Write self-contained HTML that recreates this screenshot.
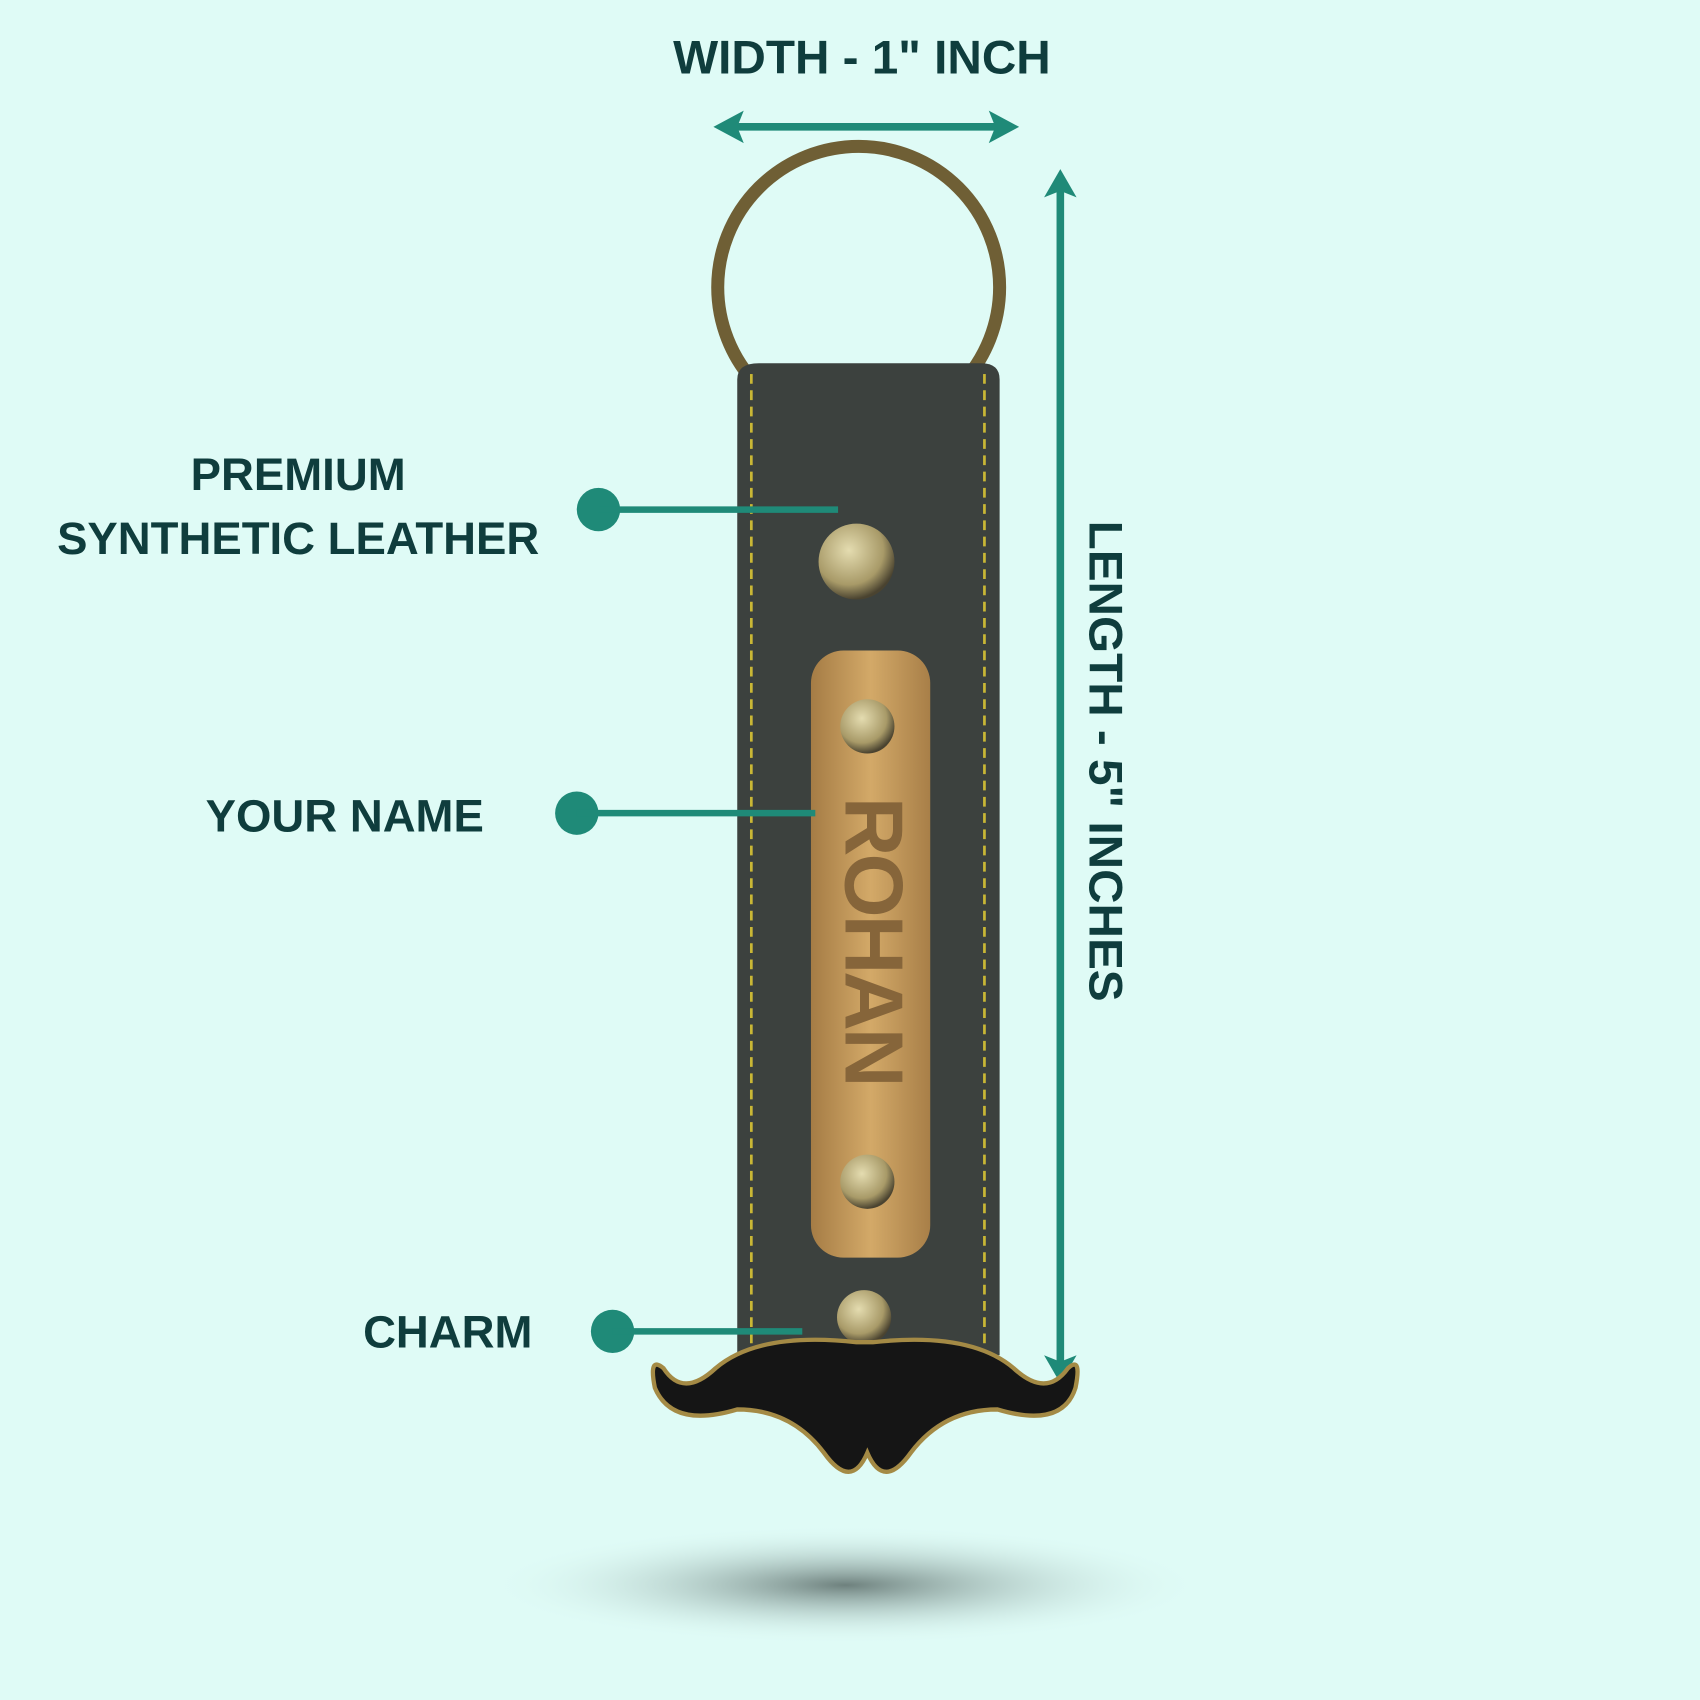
<!DOCTYPE html>
<html><head><meta charset="utf-8"><style>
html,body{margin:0;padding:0;background:#dffbf6;}
svg{display:block}
text{font-family:"Liberation Sans",sans-serif;font-weight:bold;fill:#0f3d3d;}
</style></head><body>
<svg width="1700" height="1700" viewBox="0 0 1568 1568" xmlns="http://www.w3.org/2000/svg">
<defs>
<radialGradient id="sh" cx="50%" cy="50%" r="50%"><stop offset="0" stop-color="#5a6b68" stop-opacity="0.85"/><stop offset="1" stop-color="#dffbf6" stop-opacity="0"/></radialGradient>
<radialGradient id="rv" cx="40%" cy="35%" r="65%"><stop offset="0" stop-color="#e4dcb0"/><stop offset="0.7" stop-color="#a89a68"/><stop offset="1" stop-color="#4a4330"/></radialGradient>
<linearGradient id="pl" x1="0" x2="1"><stop offset="0" stop-color="#a57c45"/><stop offset="0.5" stop-color="#d3a968"/><stop offset="1" stop-color="#a87f48"/></linearGradient>
</defs>
<rect width="1568" height="1568" fill="#dffbf6"/>
<ellipse cx="780" cy="1462" rx="330" ry="55" fill="url(#sh)"/>
<text x="795" y="68" font-size="44" text-anchor="middle">WIDTH - 1" INCH</text>
<line x1="675" y1="117" x2="922" y2="117" stroke="#1f8a78" stroke-width="7"/>
<polygon points="658,117 686,102 680,117 686,132" fill="#1f8a78"/>
<polygon points="940,117 912,102 918,117 912,132" fill="#1f8a78"/>
<line x1="978" y1="175" x2="978" y2="1258" stroke="#1f8a78" stroke-width="7"/>
<polygon points="978,156 963,182 978,176 993,182" fill="#1f8a78"/>
<polygon points="978,1276 963,1250 978,1256 993,1250" fill="#1f8a78"/>
<text transform="translate(1005,702) rotate(90)" font-size="44" text-anchor="middle">LENGTH - 5" INCHES</text>
<circle cx="792" cy="265" r="130" fill="none" stroke="#6f5f35" stroke-width="12"/>
<path d="M680,350 Q680,335 700,335 L905,335 Q922,335 922,350 L922,1250 L680,1250 Z" fill="#3c413e"/>
<line x1="693" y1="345" x2="693" y2="1245" stroke="#c9b735" stroke-width="2.5" stroke-dasharray="9,6"/>
<line x1="908" y1="345" x2="908" y2="1245" stroke="#c9b735" stroke-width="2.5" stroke-dasharray="9,6"/>
<circle cx="790" cy="518" r="35" fill="url(#rv)"/>
<rect x="748" y="600" width="110" height="560" rx="30" fill="url(#pl)"/>
<circle cx="800" cy="670" r="25" fill="url(#rv)"/>
<circle cx="800" cy="1090" r="25" fill="url(#rv)"/>
<text transform="translate(780,870) rotate(90)" font-size="76" text-anchor="middle" textLength="270" style="fill:#86653a;letter-spacing:2px">ROHAN</text>
<circle cx="797" cy="1215" r="25" fill="url(#rv)"/>
<path d="M790,1238 Q700,1228 660,1262 Q630,1290 612,1262 Q598,1250 604,1280 Q620,1318 680,1300 Q730,1300 760,1340 Q785,1375 800,1340 Q815,1375 840,1340 Q870,1300 920,1300 Q980,1318 992,1280 Q998,1250 985,1262 Q965,1290 935,1262 Q895,1228 805,1238 Z" fill="#151515" stroke="#a48a45" stroke-width="4"/>
<text x="275" y="452" font-size="42" text-anchor="middle">PREMIUM</text>
<text x="275" y="511" font-size="42" text-anchor="middle">SYNTHETIC LEATHER</text>
<circle cx="552" cy="470" r="20" fill="#1f8a78"/>
<line x1="552" y1="470" x2="773" y2="470" stroke="#1f8a78" stroke-width="6"/>
<text x="318" y="767" font-size="42" text-anchor="middle">YOUR NAME</text>
<circle cx="532" cy="750" r="20" fill="#1f8a78"/>
<line x1="532" y1="750" x2="752" y2="750" stroke="#1f8a78" stroke-width="6"/>
<text x="413" y="1243" font-size="42" text-anchor="middle">CHARM</text>
<circle cx="565" cy="1228" r="20" fill="#1f8a78"/>
<line x1="565" y1="1228" x2="740" y2="1228" stroke="#1f8a78" stroke-width="6"/>
</svg>
</body></html>
